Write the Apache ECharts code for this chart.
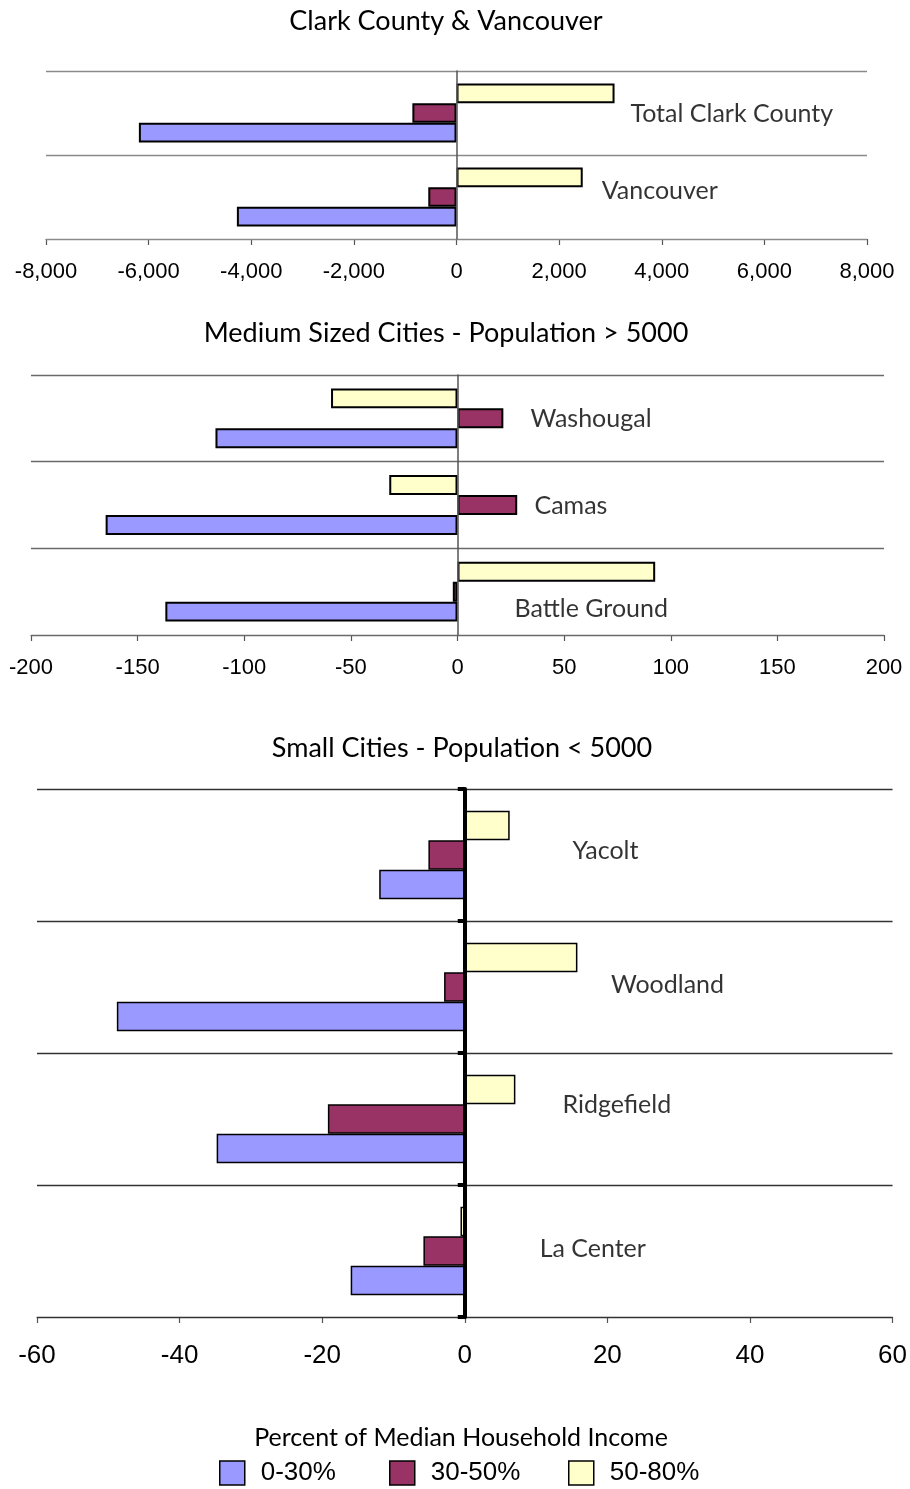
<!DOCTYPE html>
<html>
<head>
<meta charset="utf-8">
<script src="https://cdn.jsdelivr.net/npm/echarts@6/dist/echarts.min.js"></script>
<style>
  html, body { margin: 0; padding: 0; background: #ffffff; }
  #chart { width: 910px; height: 1489px; }
</style>
</head>
<body>
<div id="chart"></div>
<script>
// ---- Data: change in households by income band ----
const bandNames = ['0-30%', '30-50%', '50-80%'];

const countyCategories = ['Total Clark County', 'Vancouver'];
const countyBand0to30 = [-6190, -4280];
const countyBand30to50 = [-860, -550];
const countyBand50to80 = [3080, 2460];
const countyTicks = { min: -8000, max: 8000, interval: 2000 };

const mediumCategories = ['Washougal', 'Camas', 'Battle Ground'];
const mediumBand0to30 = [-113.5, -165, -137];
const mediumBand30to50 = [21.5, 28, -2.2];
const mediumBand50to80 = [-59.3, -32, 92.7];
const mediumTicks = { min: -200, max: 200, interval: 50 };

const smallCategories = ['Yacolt', 'Woodland', 'Ridgefield', 'La Center'];
const smallBand0to30 = [-12, -48.8, -34.8, -16];
const smallBand30to50 = [-5.1, -2.9, -19.2, -5.8];
const smallBand50to80 = [6.3, 15.8, 7.1, -0.6];
const smallTicks = { min: -60, max: 60, interval: 20 };

// ---- Layout & styling ----
const bandColors = ['#9999FF', '#993366', '#FFFFCC'];
const humanist = 'Lato, "Open Sans", sans-serif';
const plain = '"Liberation Sans", Arial, sans-serif';
const legendLefts = [214, 384, 563];

const panels = [
  {
    title: 'Clark County & Vancouver', titleX: 441, titleTop: 3,
    categories: countyCategories,
    bands: [countyBand0to30, countyBand30to50, countyBand50to80],
    ticks: countyTicks,
    grid: { left: 46, right: 43, top: 71, height: 168 },
    nameAt: [3390, 2830], nameDy: [1, -6],
    labelSize: 22, labelMargin: 22, splitColor: '#8a8a8a',
    zeroLine: { color: '#555', width: 1.5 }, zeroTicks: false, borderWidth: 2,
    gap: '30%', comma: true
  },
  {
    title: 'Medium Sized Cities - Population > 5000', titleX: 441, titleTop: 315,
    categories: mediumCategories,
    bands: [mediumBand0to30, mediumBand30to50, mediumBand50to80],
    ticks: mediumTicks,
    grid: { left: 31, right: 26, top: 375, height: 260 },
    nameAt: [34.2, 36.1, 26.7], nameDy: [1, 1, 17],
    labelSize: 22, labelMargin: 22, splitColor: '#6a6a6a',
    zeroLine: { color: '#555', width: 1.5 }, zeroTicks: false, borderWidth: 2,
    gap: '31%', comma: false
  },
  {
    title: 'Small Cities - Population < 5000', titleX: 457, titleTop: 730,
    categories: smallCategories,
    bands: [smallBand0to30, smallBand30to50, smallBand50to80],
    ticks: smallTicks,
    grid: { left: 37, right: 17, top: 789, height: 528 },
    nameAt: [15.1, 20.5, 13.7, 10.5], nameDy: [-4, -2, -14, -2],
    labelSize: 26, labelMargin: 26, splitColor: '#333',
    zeroLine: { color: '#000', width: 4 }, zeroTicks: true, borderWidth: 1.5,
    gap: '33%', comma: false
  }
];

function fmt(v, comma) {
  if (!comma) return String(v);
  const s = Math.abs(v).toString().replace(/\B(?=(\d{3})+(?!\d))/g, ',');
  return (v < 0 ? '-' : '') + s;
}

const option = {
  backgroundColor: '#ffffff',
  animation: false,
  title: [],
  grid: [],
  xAxis: [],
  yAxis: [],
  series: [],
  // one legend block per income band, laid out in a row
  legend: bandNames.map(function (name, i) {
    return {
      data: [name],
      left: legendLefts[i], top: 1455,
      itemWidth: 25, itemHeight: 24,
      icon: 'rect',
      itemStyle: { borderColor: '#000', borderWidth: 1.5 },
      textStyle: { fontFamily: plain, fontSize: 26, color: '#000', padding: [0, 0, 0, 11] }
    };
  })
};

panels.forEach(function (p, gi) {
  option.title.push({
    text: p.title, left: p.titleX, textAlign: 'center', top: p.titleTop,
    textStyle: { fontFamily: humanist, fontSize: 27, fontWeight: 'normal', color: '#000' }
  });
  option.grid.push(Object.assign({ containLabel: false }, p.grid));
  option.xAxis.push({
    type: 'value', gridIndex: gi,
    min: p.ticks.min, max: p.ticks.max, interval: p.ticks.interval,
    axisLine: { show: true, onZero: false, lineStyle: { color: '#555', width: 1.2 } },
    axisTick: { show: true, length: 6, inside: false, lineStyle: { color: '#555', width: 1.2 } },
    splitLine: { show: false },
    axisLabel: {
      margin: p.labelMargin, fontFamily: plain, fontSize: p.labelSize, color: '#000',
      formatter: function (v) { return fmt(v, p.comma); }
    }
  });
  option.yAxis.push({
    type: 'category', gridIndex: gi, data: p.categories, inverse: true,
    axisLine: { show: true, onZero: true, lineStyle: { color: p.zeroLine.color, width: p.zeroLine.width } },
    axisTick: { show: p.zeroTicks, length: 7, lineStyle: { color: '#000', width: 4 } },
    axisLabel: { show: false },
    splitLine: { show: true, lineStyle: { color: p.splitColor, width: 1.3 } },
    z: 5
  });
  // bands drawn top-to-bottom: 50-80%, 30-50%, 0-30%
  [2, 1, 0].forEach(function (b) {
    option.series.push({
      name: bandNames[b], type: 'bar', xAxisIndex: gi, yAxisIndex: gi,
      data: p.bands[b],
      barGap: '0%', barCategoryGap: p.gap,
      itemStyle: { color: bandColors[b], borderColor: '#000', borderWidth: p.borderWidth },
      z: 3
    });
  });
  // city names placed beside their bar groups
  option.series.push({
    type: 'scatter', xAxisIndex: gi, yAxisIndex: gi, silent: true,
    symbolSize: 0,
    data: p.categories.map(function (c, i) {
      return {
        value: [p.nameAt[i], i],
        label: { offset: [0, p.nameDy[i]] }
      };
    }),
    label: {
      show: true, position: 'right', distance: 0,
      fontFamily: humanist, fontSize: 25, color: '#000',
      formatter: function (d) { return p.categories[d.dataIndex]; }
    },
    z: 10
  });
});

// caption above the legend
option.title.push({
  text: 'Percent of Median Household Income', left: 456, textAlign: 'center', top: 1420,
  textStyle: { fontFamily: humanist, fontSize: 25, fontWeight: 'normal', color: '#000' }
});

const chart = echarts.init(document.getElementById('chart'), null, { renderer: 'canvas' });
chart.setOption(option);
</script>
</body>
</html>
